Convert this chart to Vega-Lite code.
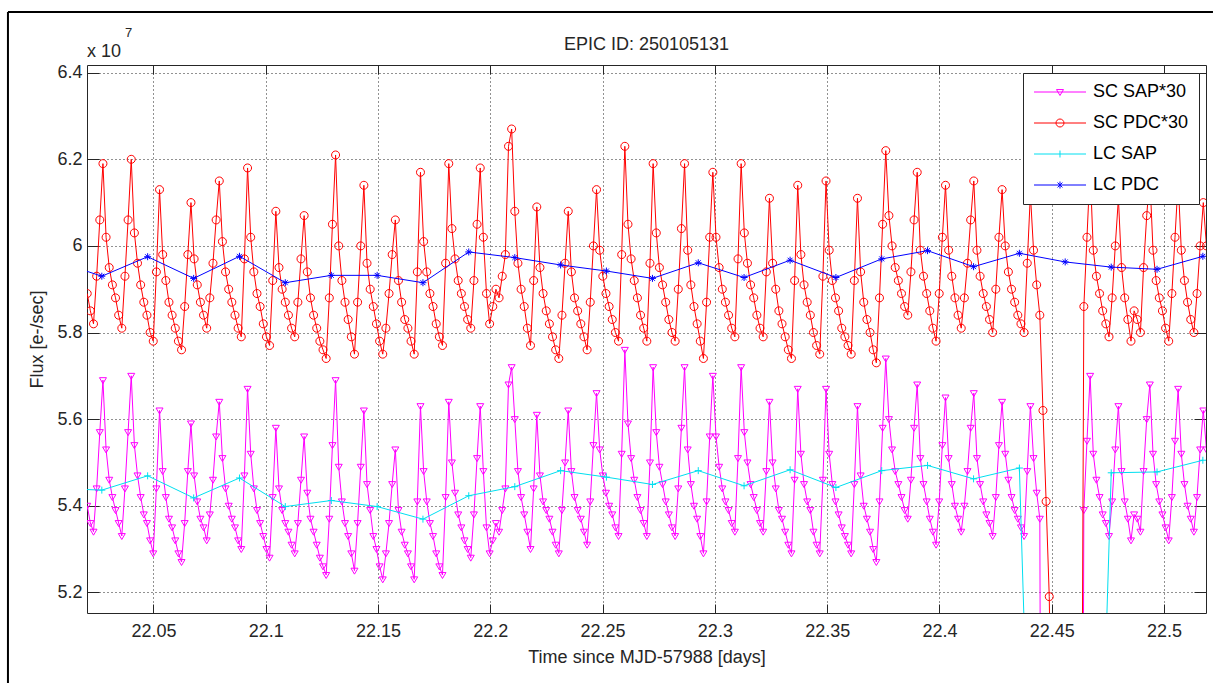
{
"$schema": "https://vega.github.io/schema/vega-lite/v6.json",
"width": 1119, "height": 548,
"autosize": {"type": "none"},
"padding": {"left": 87, "top": 65, "right": 7, "bottom": 70},
"background": "white",
"config": {
 "view": {"stroke": "#262626", "strokeWidth": 1},
 "font": "Liberation Sans",
 "axis": {"labelFont": "Liberation Sans", "titleFont": "Liberation Sans", "labelColor": "#262626", "titleColor": "#262626", "tickColor": "#262626", "labelFontSize": 18, "titleFontSize": 18, "titleFontWeight": "normal", "domain": false}
},
"title": {"text": "EPIC ID: 250105131", "fontSize": 18, "fontWeight": "normal", "color": "#262626", "font": "Liberation Sans", "offset": -43},
"datasets": {
"sc": [
{"t":22.0205,"a":5.40,"p":5.89},{"t":22.0219,"a":5.36,"p":5.85},{"t":22.0233,"a":5.34,"p":5.82},{"t":22.0247,"a":5.44,"p":5.93},{"t":22.0261,"a":5.57,"p":6.06},
{"t":22.0275,"a":5.69,"p":6.19},{"t":22.0289,"a":5.53,"p":6.02},{"t":22.0303,"a":5.46,"p":5.95},{"t":22.0317,"a":5.42,"p":5.91},{"t":22.0331,"a":5.39,"p":5.88},
{"t":22.0345,"a":5.36,"p":5.84},{"t":22.0359,"a":5.33,"p":5.81},{"t":22.0373,"a":5.44,"p":5.93},{"t":22.0387,"a":5.57,"p":6.06},{"t":22.0401,"a":5.70,"p":6.20},
{"t":22.0415,"a":5.54,"p":6.03},{"t":22.0429,"a":5.47,"p":5.96},{"t":22.0443,"a":5.42,"p":5.91},{"t":22.0457,"a":5.38,"p":5.87},{"t":22.0471,"a":5.36,"p":5.84},
{"t":22.0485,"a":5.32,"p":5.80},{"t":22.0499,"a":5.29,"p":5.78},{"t":22.0513,"a":5.44,"p":5.94},{"t":22.0527,"a":5.62,"p":6.13},{"t":22.0541,"a":5.48,"p":5.98},
{"t":22.0555,"a":5.42,"p":5.92},{"t":22.0569,"a":5.37,"p":5.87},{"t":22.0583,"a":5.35,"p":5.84},{"t":22.0597,"a":5.32,"p":5.81},{"t":22.0611,"a":5.29,"p":5.78},
{"t":22.0625,"a":5.27,"p":5.76},{"t":22.0639,"a":5.36,"p":5.86},{"t":22.0653,"a":5.48,"p":5.98},{"t":22.0667,"a":5.59,"p":6.10},{"t":22.0681,"a":5.47,"p":5.97},
{"t":22.0695,"a":5.41,"p":5.91},{"t":22.0709,"a":5.37,"p":5.87},{"t":22.0723,"a":5.35,"p":5.84},{"t":22.0737,"a":5.32,"p":5.81},{"t":22.0751,"a":5.38,"p":5.88},
{"t":22.0765,"a":5.46,"p":5.96},{"t":22.0779,"a":5.56,"p":6.06},{"t":22.0793,"a":5.64,"p":6.15},{"t":22.0807,"a":5.51,"p":6.01},{"t":22.0821,"a":5.44,"p":5.94},
{"t":22.0835,"a":5.40,"p":5.90},{"t":22.0849,"a":5.37,"p":5.87},{"t":22.0863,"a":5.35,"p":5.84},{"t":22.0877,"a":5.32,"p":5.81},{"t":22.0891,"a":5.30,"p":5.79},
{"t":22.0905,"a":5.47,"p":5.97},{"t":22.0919,"a":5.67,"p":6.18},{"t":22.0933,"a":5.52,"p":6.02},{"t":22.0947,"a":5.44,"p":5.94},{"t":22.0961,"a":5.39,"p":5.89},
{"t":22.0975,"a":5.36,"p":5.86},{"t":22.0989,"a":5.33,"p":5.82},{"t":22.1003,"a":5.30,"p":5.79},{"t":22.1017,"a":5.28,"p":5.77},{"t":22.1031,"a":5.42,"p":5.92},
{"t":22.1045,"a":5.58,"p":6.08},{"t":22.1059,"a":5.44,"p":5.95},{"t":22.1073,"a":5.39,"p":5.90},{"t":22.1087,"a":5.36,"p":5.87},{"t":22.1101,"a":5.34,"p":5.84},
{"t":22.1115,"a":5.31,"p":5.81},{"t":22.1129,"a":5.29,"p":5.79},{"t":22.1143,"a":5.36,"p":5.87},{"t":22.1157,"a":5.46,"p":5.97},{"t":22.1171,"a":5.56,"p":6.07},
{"t":22.1185,"a":5.43,"p":5.94},{"t":22.1199,"a":5.37,"p":5.88},{"t":22.1213,"a":5.34,"p":5.84},{"t":22.1227,"a":5.31,"p":5.81},{"t":22.1241,"a":5.28,"p":5.78},
{"t":22.1255,"a":5.26,"p":5.76},{"t":22.1269,"a":5.24,"p":5.74},{"t":22.1283,"a":5.37,"p":5.88},{"t":22.1297,"a":5.54,"p":6.05},{"t":22.1311,"a":5.69,"p":6.21},
{"t":22.1325,"a":5.49,"p":6.00},{"t":22.1339,"a":5.41,"p":5.92},{"t":22.1353,"a":5.36,"p":5.87},{"t":22.1367,"a":5.33,"p":5.83},{"t":22.1381,"a":5.29,"p":5.79},
{"t":22.1395,"a":5.25,"p":5.75},{"t":22.1409,"a":5.36,"p":5.87},{"t":22.1423,"a":5.49,"p":6.00},{"t":22.1437,"a":5.62,"p":6.14},{"t":22.1451,"a":5.45,"p":5.96},
{"t":22.1465,"a":5.39,"p":5.90},{"t":22.1479,"a":5.33,"p":5.86},{"t":22.1493,"a":5.30,"p":5.82},{"t":22.1507,"a":5.26,"p":5.78},{"t":22.1521,"a":5.23,"p":5.75},
{"t":22.1535,"a":5.29,"p":5.81},{"t":22.1549,"a":5.36,"p":5.89},{"t":22.1563,"a":5.45,"p":5.98},{"t":22.1577,"a":5.53,"p":6.06},{"t":22.1591,"a":5.39,"p":5.92},
{"t":22.1605,"a":5.34,"p":5.87},{"t":22.1619,"a":5.31,"p":5.83},{"t":22.1633,"a":5.29,"p":5.81},{"t":22.1647,"a":5.26,"p":5.78},{"t":22.1661,"a":5.23,"p":5.75},
{"t":22.1675,"a":5.41,"p":5.94},{"t":22.1689,"a":5.63,"p":6.17},{"t":22.1703,"a":5.48,"p":6.01},{"t":22.1717,"a":5.41,"p":5.94},{"t":22.1731,"a":5.36,"p":5.89},
{"t":22.1745,"a":5.33,"p":5.86},{"t":22.1759,"a":5.29,"p":5.82},{"t":22.1773,"a":5.26,"p":5.79},{"t":22.1787,"a":5.24,"p":5.77},{"t":22.1801,"a":5.42,"p":5.96},
{"t":22.1815,"a":5.64,"p":6.19},{"t":22.1829,"a":5.50,"p":6.04},{"t":22.1843,"a":5.43,"p":5.97},{"t":22.1857,"a":5.38,"p":5.92},{"t":22.1871,"a":5.35,"p":5.89},
{"t":22.1885,"a":5.32,"p":5.86},{"t":22.1899,"a":5.30,"p":5.83},{"t":22.1913,"a":5.28,"p":5.81},{"t":22.1927,"a":5.38,"p":5.92},{"t":22.1941,"a":5.51,"p":6.05},
{"t":22.1955,"a":5.63,"p":6.18},{"t":22.1969,"a":5.48,"p":6.02},{"t":22.1983,"a":5.35,"p":5.89},{"t":22.1997,"a":5.29,"p":5.82},{"t":22.2011,"a":5.32,"p":5.86},
{"t":22.2025,"a":5.36,"p":5.90},{"t":22.2039,"a":5.34,"p":5.88},{"t":22.2053,"a":5.39,"p":5.93},{"t":22.2067,"a":5.44,"p":5.98},{"t":22.2081,"a":5.68,"p":6.23},
{"t":22.2095,"a":5.72,"p":6.27},{"t":22.2109,"a":5.60,"p":6.08},{"t":22.2123,"a":5.48,"p":5.96},{"t":22.2137,"a":5.42,"p":5.90},{"t":22.2151,"a":5.38,"p":5.86},
{"t":22.2165,"a":5.34,"p":5.81},{"t":22.2179,"a":5.30,"p":5.77},{"t":22.2193,"a":5.44,"p":5.92},{"t":22.2207,"a":5.61,"p":6.09},{"t":22.2221,"a":5.47,"p":5.95},
{"t":22.2235,"a":5.41,"p":5.89},{"t":22.2249,"a":5.39,"p":5.85},{"t":22.2263,"a":5.37,"p":5.82},{"t":22.2277,"a":5.34,"p":5.79},{"t":22.2291,"a":5.31,"p":5.76},
{"t":22.2305,"a":5.29,"p":5.74},{"t":22.2319,"a":5.39,"p":5.84},{"t":22.2333,"a":5.50,"p":5.96},{"t":22.2347,"a":5.62,"p":6.08},{"t":22.2361,"a":5.48,"p":5.94},
{"t":22.2375,"a":5.42,"p":5.88},{"t":22.2389,"a":5.39,"p":5.85},{"t":22.2403,"a":5.37,"p":5.82},{"t":22.2417,"a":5.34,"p":5.79},{"t":22.2431,"a":5.31,"p":5.76},
{"t":22.2445,"a":5.41,"p":5.87},{"t":22.2459,"a":5.54,"p":6.00},{"t":22.2473,"a":5.66,"p":6.13},{"t":22.2487,"a":5.53,"p":5.99},{"t":22.2501,"a":5.47,"p":5.93},
{"t":22.2515,"a":5.43,"p":5.89},{"t":22.2529,"a":5.40,"p":5.86},{"t":22.2543,"a":5.38,"p":5.83},{"t":22.2557,"a":5.35,"p":5.80},{"t":22.2571,"a":5.33,"p":5.78},
{"t":22.2585,"a":5.52,"p":5.98},{"t":22.2599,"a":5.76,"p":6.23},{"t":22.2613,"a":5.59,"p":6.05},{"t":22.2627,"a":5.51,"p":5.97},{"t":22.2641,"a":5.46,"p":5.92},
{"t":22.2655,"a":5.42,"p":5.88},{"t":22.2669,"a":5.39,"p":5.84},{"t":22.2683,"a":5.36,"p":5.81},{"t":22.2697,"a":5.33,"p":5.78},{"t":22.2711,"a":5.50,"p":5.96},
{"t":22.2725,"a":5.72,"p":6.19},{"t":22.2739,"a":5.57,"p":6.03},{"t":22.2753,"a":5.49,"p":5.95},{"t":22.2767,"a":5.45,"p":5.91},{"t":22.2781,"a":5.41,"p":5.87},
{"t":22.2795,"a":5.38,"p":5.83},{"t":22.2809,"a":5.35,"p":5.80},{"t":22.2823,"a":5.33,"p":5.78},{"t":22.2837,"a":5.44,"p":5.90},{"t":22.2851,"a":5.58,"p":6.04},
{"t":22.2865,"a":5.72,"p":6.19},{"t":22.2879,"a":5.53,"p":5.99},{"t":22.2893,"a":5.45,"p":5.91},{"t":22.2907,"a":5.40,"p":5.86},{"t":22.2921,"a":5.37,"p":5.82},
{"t":22.2935,"a":5.33,"p":5.78},{"t":22.2949,"a":5.29,"p":5.74},{"t":22.2963,"a":5.41,"p":5.87},{"t":22.2977,"a":5.56,"p":6.02},{"t":22.2991,"a":5.70,"p":6.17},
{"t":22.3005,"a":5.56,"p":6.02},{"t":22.3019,"a":5.49,"p":5.95},{"t":22.3033,"a":5.44,"p":5.90},{"t":22.3047,"a":5.41,"p":5.87},{"t":22.3061,"a":5.39,"p":5.84},
{"t":22.3075,"a":5.36,"p":5.81},{"t":22.3089,"a":5.34,"p":5.79},{"t":22.3103,"a":5.51,"p":5.97},{"t":22.3117,"a":5.72,"p":6.19},{"t":22.3131,"a":5.57,"p":6.03},
{"t":22.3145,"a":5.50,"p":5.96},{"t":22.3159,"a":5.45,"p":5.91},{"t":22.3173,"a":5.42,"p":5.88},{"t":22.3187,"a":5.39,"p":5.84},{"t":22.3201,"a":5.36,"p":5.81},
{"t":22.3215,"a":5.34,"p":5.79},{"t":22.3229,"a":5.48,"p":5.94},{"t":22.3243,"a":5.64,"p":6.11},{"t":22.3257,"a":5.50,"p":5.96},{"t":22.3271,"a":5.44,"p":5.90},
{"t":22.3285,"a":5.39,"p":5.85},{"t":22.3299,"a":5.37,"p":5.82},{"t":22.3313,"a":5.34,"p":5.79},{"t":22.3327,"a":5.31,"p":5.76},{"t":22.3341,"a":5.29,"p":5.74},
{"t":22.3355,"a":5.46,"p":5.92},{"t":22.3369,"a":5.67,"p":6.14},{"t":22.3383,"a":5.52,"p":5.98},{"t":22.3397,"a":5.45,"p":5.91},{"t":22.3411,"a":5.41,"p":5.87},
{"t":22.3425,"a":5.39,"p":5.84},{"t":22.3439,"a":5.34,"p":5.80},{"t":22.3453,"a":5.31,"p":5.77},{"t":22.3467,"a":5.29,"p":5.75},{"t":22.3481,"a":5.46,"p":5.93},
{"t":22.3495,"a":5.67,"p":6.15},{"t":22.3509,"a":5.52,"p":5.99},{"t":22.3523,"a":5.45,"p":5.92},{"t":22.3537,"a":5.41,"p":5.88},{"t":22.3551,"a":5.38,"p":5.85},
{"t":22.3565,"a":5.35,"p":5.81},{"t":22.3579,"a":5.33,"p":5.79},{"t":22.3593,"a":5.31,"p":5.77},{"t":22.3607,"a":5.29,"p":5.75},{"t":22.3621,"a":5.45,"p":5.92},
{"t":22.3635,"a":5.63,"p":6.11},{"t":22.3649,"a":5.47,"p":5.94},{"t":22.3663,"a":5.40,"p":5.87},{"t":22.3677,"a":5.37,"p":5.83},{"t":22.3691,"a":5.34,"p":5.80},
{"t":22.3705,"a":5.30,"p":5.76},{"t":22.3719,"a":5.27,"p":5.73},{"t":22.3733,"a":5.41,"p":5.88},{"t":22.3747,"a":5.58,"p":6.05},{"t":22.3761,"a":5.74,"p":6.22},
{"t":22.3775,"a":5.60,"p":6.07},{"t":22.3789,"a":5.53,"p":6.00},{"t":22.3803,"a":5.48,"p":5.95},{"t":22.3817,"a":5.45,"p":5.92},{"t":22.3831,"a":5.42,"p":5.89},
{"t":22.3845,"a":5.39,"p":5.86},{"t":22.3859,"a":5.37,"p":5.84},{"t":22.3873,"a":5.46,"p":5.94},{"t":22.3887,"a":5.58,"p":6.06},{"t":22.3901,"a":5.68,"p":6.17},
{"t":22.3915,"a":5.51,"p":5.99},{"t":22.3929,"a":5.45,"p":5.93},{"t":22.3943,"a":5.41,"p":5.89},{"t":22.3957,"a":5.37,"p":5.85},{"t":22.3971,"a":5.34,"p":5.81},
{"t":22.3985,"a":5.31,"p":5.78},{"t":22.3999,"a":5.41,"p":5.89},{"t":22.4013,"a":5.54,"p":6.02},{"t":22.4027,"a":5.65,"p":6.14},{"t":22.4041,"a":5.51,"p":5.99},
{"t":22.4055,"a":5.45,"p":5.93},{"t":22.4069,"a":5.40,"p":5.88},{"t":22.4083,"a":5.37,"p":5.84},{"t":22.4097,"a":5.34,"p":5.81},{"t":22.4111,"a":5.40,"p":5.88},
{"t":22.4125,"a":5.48,"p":5.96},{"t":22.4139,"a":5.58,"p":6.06},{"t":22.4153,"a":5.66,"p":6.15},{"t":22.4167,"a":5.51,"p":5.99},{"t":22.4181,"a":5.45,"p":5.93},
{"t":22.4195,"a":5.41,"p":5.89},{"t":22.4209,"a":5.38,"p":5.86},{"t":22.4223,"a":5.36,"p":5.83},{"t":22.4237,"a":5.33,"p":5.80},{"t":22.4251,"a":5.42,"p":5.90},
{"t":22.4265,"a":5.54,"p":6.02},{"t":22.4279,"a":5.64,"p":6.13},{"t":22.4293,"a":5.52,"p":6.00},{"t":22.4307,"a":5.46,"p":5.94},{"t":22.4321,"a":5.42,"p":5.90},
{"t":22.4335,"a":5.39,"p":5.87},{"t":22.4349,"a":5.37,"p":5.84},{"t":22.4363,"a":5.35,"p":5.82},{"t":22.4377,"a":5.33,"p":5.80},{"t":22.4391,"a":5.48,"p":5.96},
{"t":22.4405,"a":5.63,"p":6.12},{"t":22.4419,"a":5.51,"p":5.99},{"t":22.4433,"a":5.43,"p":5.91},{"t":22.4447,"a":5.37,"p":5.84},{"t":22.4461,"a":3.0,"p":5.62},
{"t":22.4475,"a":3.0,"p":5.41},{"t":22.4489,"a":3.0,"p":5.19},{"t":22.4503,"a":3.0,"p":4.70},{"t":22.4517,"a":3.0,"p":4.30},{"t":22.4531,"a":3.0,"p":4.10},
{"t":22.4545,"a":3.0,"p":4.00},{"t":22.4559,"a":3.0,"p":4.00},{"t":22.4573,"a":3.0,"p":4.10},{"t":22.4587,"a":3.0,"p":4.20},{"t":22.4601,"a":3.0,"p":4.10},
{"t":22.4615,"a":3.0,"p":4.00},{"t":22.4629,"a":3.0,"p":4.20},{"t":22.4643,"a":5.39,"p":5.86},{"t":22.4657,"a":5.55,"p":6.02},{"t":22.4671,"a":5.70,"p":6.18},
{"t":22.4685,"a":5.52,"p":5.99},{"t":22.4699,"a":5.46,"p":5.93},{"t":22.4713,"a":5.42,"p":5.89},{"t":22.4727,"a":5.38,"p":5.85},{"t":22.4741,"a":5.36,"p":5.82},
{"t":22.4755,"a":5.33,"p":5.79},{"t":22.4769,"a":5.41,"p":5.88},{"t":22.4783,"a":5.53,"p":6.00},{"t":22.4797,"a":5.63,"p":6.11},{"t":22.4811,"a":5.48,"p":5.95},
{"t":22.4825,"a":5.41,"p":5.88},{"t":22.4839,"a":5.37,"p":5.83},{"t":22.4853,"a":5.32,"p":5.78},{"t":22.4867,"a":5.38,"p":5.85},{"t":22.4881,"a":5.37,"p":5.83},
{"t":22.4895,"a":5.34,"p":5.80},{"t":22.4909,"a":5.48,"p":5.95},{"t":22.4923,"a":5.60,"p":6.07},{"t":22.4937,"a":5.68,"p":6.16},{"t":22.4951,"a":5.52,"p":5.99},
{"t":22.4965,"a":5.45,"p":5.92},{"t":22.4979,"a":5.41,"p":5.88},{"t":22.4993,"a":5.38,"p":5.85},{"t":22.5007,"a":5.35,"p":5.81},{"t":22.5021,"a":5.32,"p":5.78},
{"t":22.5035,"a":5.42,"p":5.89},{"t":22.5049,"a":5.55,"p":6.02},{"t":22.5063,"a":5.67,"p":6.15},{"t":22.5077,"a":5.52,"p":5.99},{"t":22.5091,"a":5.45,"p":5.92},
{"t":22.5105,"a":5.40,"p":5.87},{"t":22.5119,"a":5.37,"p":5.83},{"t":22.5133,"a":5.34,"p":5.80},{"t":22.5147,"a":5.42,"p":5.89},{"t":22.5161,"a":5.53,"p":6.00},
{"t":22.5175,"a":5.62,"p":6.10},{"t":22.5189,"a":5.53,"p":6.00}
],
"lc": [
{"t":22.0066,"s":5.44,"d":5.965},{"t":22.0270,"s":5.436,"d":5.930},{"t":22.0474,"s":5.469,"d":5.975},{"t":22.0679,"s":5.418,"d":5.925},{"t":22.0883,"s":5.464,"d":5.976},
{"t":22.1087,"s":5.398,"d":5.915},{"t":22.1292,"s":5.412,"d":5.932},{"t":22.1496,"s":5.398,"d":5.932},{"t":22.1700,"s":5.369,"d":5.915},{"t":22.1904,"s":5.423,"d":5.986},
{"t":22.2109,"s":5.444,"d":5.973},{"t":22.2313,"s":5.481,"d":5.956},{"t":22.2517,"s":5.466,"d":5.942},{"t":22.2722,"s":5.449,"d":5.925},{"t":22.2926,"s":5.481,"d":5.961},
{"t":22.3130,"s":5.446,"d":5.927},{"t":22.3335,"s":5.483,"d":5.967},{"t":22.3539,"s":5.442,"d":5.927},{"t":22.3743,"s":5.481,"d":5.970},{"t":22.3947,"s":5.493,"d":5.989},
{"t":22.4152,"s":5.462,"d":5.952},{"t":22.4356,"s":5.487,"d":5.983},{"t":22.4560,"s":2.0,"d":5.963},{"t":22.4765,"s":5.476,"d":5.951},{"t":22.4969,"s":5.478,"d":5.946},
{"t":22.5173,"s":5.505,"d":5.976}
]
},
"layer": [
{
 "data": {"name": "sc"},
 "mark": {"type": "line", "strokeWidth": 1, "clip": true, "point": {"shape": "M-1,-0.7L1,-0.7L0,1Z", "filled": false, "size": 49, "strokeWidth": 1}},
 "encoding": {
  "x": {"field": "t", "type": "quantitative", "scale": {"domain": [22.0204, 22.5187], "nice": false, "zero": false},
        "axis": {"orient": "bottom", "values": [22.05,22.1,22.15,22.2,22.25,22.3,22.35,22.4,22.45,22.5], "labelExpr": "format(datum.value, '.2~f')", "grid": true, "gridDash": [1,3], "gridColor": "#222222", "gridOpacity": 1, "tickSize": -9, "labelPadding": 18, "title": "Time since MJD-57988 [days]", "titlePadding": 8}},
  "y": {"field": "a", "type": "quantitative", "scale": {"domain": [5.1522, 6.4178], "nice": false, "zero": false},
        "axis": {"orient": "left", "values": [5.2,5.4,5.6,5.8,6,6.2,6.4], "labelExpr": "format(datum.value, '.1~f')", "grid": true, "gridDash": [1,3], "gridColor": "#222222", "gridOpacity": 1, "tickSize": -12, "labelPadding": 17, "title": "Flux [e-/sec]", "titlePadding": 10}},
  "color": {"datum": "SC SAP*30", "type": "nominal",
   "scale": {"domain": ["SC SAP*30", "SC PDC*30", "LC SAP", "LC PDC"], "range": ["#ff00ff", "#ff0000", "#00dff0", "#0000ff"]},
   "legend": {"orient": "none", "legendX": 936, "legendY": 8, "title": null, "fillColor": "white", "strokeColor": "#262626", "padding": 10,
     "labelFontSize": 18, "labelFont": "Liberation Sans", "labelColor": "#000000", "labelOffset": 42, "symbolSize": 196, "rowPadding": 13, "symbolStrokeWidth": 1,
     "encode": {"symbols": {"update": {
       "shape": {"signal": "datum.value === 'SC SAP*30' ? 'M-1.14,0H6.29M2.07,-0.35L3.07,-0.35L2.57,0.5Z' : datum.value === 'SC PDC*30' ? 'M-1.14,0H6.29M3.14,0A0.57,0.57,0,1,1,2,0A0.57,0.57,0,1,1,3.14,0' : datum.value === 'LC SAP' ? 'M-1.14,0H6.29M2.57,-0.5V0.5' : 'M-1.14,0H6.29M2.57,-0.5V0.5M2.22,-0.35L2.92,0.35M2.22,0.35L2.92,-0.35'"},
       "fill": {"value": "transparent"}, "stroke": {"scale": "color", "field": "value"}, "strokeWidth": {"value": 1}, "opacity": {"value": 1}}}}}}
 }
},
{
 "data": {"name": "sc"},
 "mark": {"type": "line", "strokeWidth": 1, "clip": true, "point": {"shape": "M1,0A1,1,0,1,1,-1,0A1,1,0,1,1,1,0Z", "filled": false, "size": 64, "strokeWidth": 1}},
 "encoding": {
  "x": {"field": "t", "type": "quantitative", "axis": {"orient": "top", "values": [22.05,22.1,22.15,22.2,22.25,22.3,22.35,22.4,22.45,22.5], "labels": false, "grid": false, "tickSize": -9, "title": null}},
  "y": {"field": "p", "type": "quantitative", "axis": {"orient": "right", "values": [5.2,5.4,5.6,5.8,6,6.2,6.4], "labels": false, "grid": false, "tickSize": -12, "title": null}},
  "color": {"datum": "SC PDC*30", "type": "nominal"}
 }
},
{
 "data": {"name": "lc"},
 "mark": {"type": "line", "strokeWidth": 1, "clip": true, "point": {"shape": "M0,-1V1M-1,0H1", "filled": false, "size": 49, "strokeWidth": 1}},
 "encoding": {
  "x": {"field": "t", "type": "quantitative", "axis": null},
  "y": {"field": "s", "type": "quantitative", "axis": null},
  "color": {"datum": "LC SAP", "type": "nominal"}
 }
},
{
 "data": {"name": "lc"},
 "mark": {"type": "line", "strokeWidth": 1, "clip": true, "point": {"shape": "M0,-1V1M-1,0H1M-0.7,-0.7L0.7,0.7M-0.7,0.7L0.7,-0.7", "filled": false, "size": 49, "strokeWidth": 1}},
 "encoding": {
  "x": {"field": "t", "type": "quantitative", "axis": null},
  "y": {"field": "d", "type": "quantitative", "axis": null},
  "color": {"datum": "LC PDC", "type": "nominal"}
 }
},
{
 "data": {"values": [{}]},
 "mark": {"type": "text", "text": "x 10", "align": "left", "baseline": "alphabetic", "fontSize": 18, "font": "Liberation Sans", "color": "#262626", "clip": false},
 "encoding": {"x": {"datum": 22.0204, "type": "quantitative", "axis": null}, "y": {"datum": 6.4363, "type": "quantitative", "axis": null}}
},
{
 "data": {"values": [{}]},
 "mark": {"type": "text", "text": "7", "align": "left", "baseline": "alphabetic", "fontSize": 13, "font": "Liberation Sans", "color": "#262626", "clip": false},
 "encoding": {"x": {"datum": 22.0373, "type": "quantitative", "axis": null}, "y": {"datum": 6.4824, "type": "quantitative", "axis": null}}
},
{
 "data": {"values": [{}]},
 "mark": {"type": "rule", "color": "#000000", "strokeWidth": 2, "clip": false},
 "encoding": {"x": {"datum": 21.9852, "type": "quantitative", "axis": null}, "y": {"datum": 6.5402, "type": "quantitative", "axis": null}, "y2": {"datum": 4.9905}}
},
{
 "data": {"values": [{}]},
 "mark": {"type": "rule", "color": "#000000", "strokeWidth": 2, "clip": false},
 "encoding": {"x": {"datum": 21.9852, "type": "quantitative", "axis": null}, "x2": {"datum": 22.5218}, "y": {"datum": 6.5402, "type": "quantitative", "axis": null}}
}
],
"resolve": {"axis": {"x": "independent", "y": "independent"}}
}
